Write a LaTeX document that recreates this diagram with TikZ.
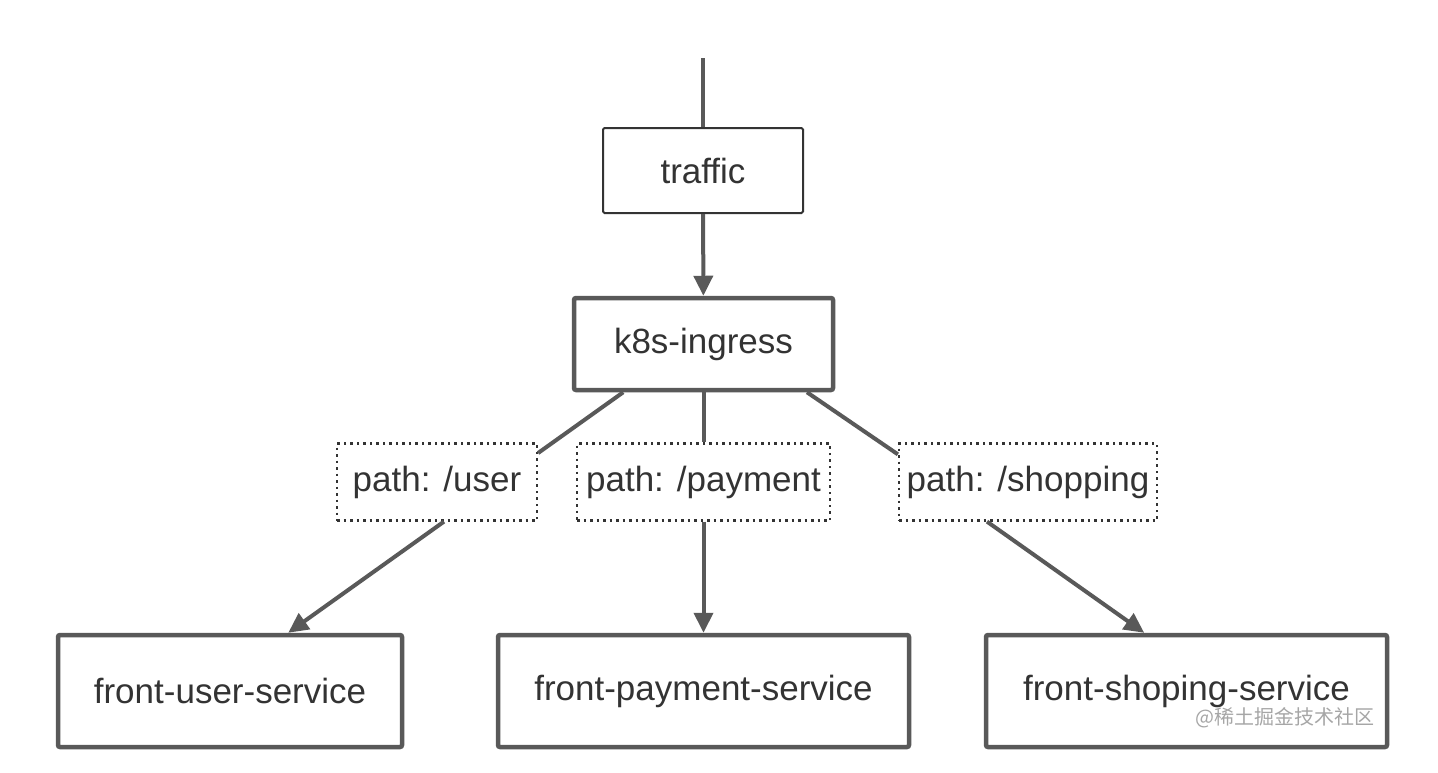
\documentclass[tikz,border=0pt]{standalone}
\usepackage{fontspec}
\setmainfont{Liberation Sans}
\newfontfamily\cjkfont{Noto Sans CJK SC}
\usepackage{tikz}
\usetikzlibrary{arrows.meta,positioning}
\definecolor{linegray}{HTML}{595959}
\definecolor{textgray}{HTML}{333333}
\definecolor{markgray}{HTML}{A6A6A6}

\begin{document}
\begin{tikzpicture}[x=1pt,y=-1pt,% one unit is one pixel of the reference
					every node/.style={
						align=center,			% so that "\\" works
						text=textgray,
						font=\fontsize{35}{42}\selectfont,
						inner sep=0pt
						},
					box/.style={rectangle,draw=textgray,line width=2pt,rounded corners=1.5pt},
					svcbox/.style={rectangle,draw=linegray,line width=4.5pt,rounded corners=2pt},
					routebox/.style={rectangle,draw=textgray,line width=2.2pt,dash pattern=on 2.5pt off 4pt},
					every edge/.style={draw=linegray,line width=4pt},
					tip/.style={-{Triangle[length=20pt,width=19pt]}}
					]
\useasboundingbox (0,0) rectangle (1438,772);
\coordinate (In) at (703,58);
\node[box,minimum width=200,minimum height=85](Traffic) at (703,170.5){traffic};
\node[svcbox,minimum width=259,minimum height=92](Ingress) at (703.5,344){k8s-ingress};
\node[routebox,minimum width=200,minimum height=77](UserPath) at (437,482){path: /user};
\node[routebox,minimum width=253,minimum height=77](PayPath) at (703.5,482){path: /payment};
\node[routebox,minimum width=258,minimum height=77](ShopPath) at (1028,482){path: /shopping};
\node[svcbox,minimum width=344,minimum height=112](UserSvc) at (230,691){front-user-service};
\node[svcbox,minimum width=411,minimum height=112](PaySvc) at (703.5,691){front-payment-service};
\node[svcbox,minimum width=401,minimum height=112](ShopSvc) at (1186.5,691){front-shoping-service};
\node[text=markgray,font=\cjkfont\fontsize{20}{24}\selectfont](Mark) at (1285,718){@稀土掘金技术社区};
\path
(In)edge []     (Traffic.north)
(Traffic)edge [tip]     (Ingress)
(Ingress.-149)edge []     (UserPath.16)
(Ingress)edge []     (PayPath)
(Ingress.-25)edge []     (ShopPath.168.6)
(UserPath.-80)edge [tip]     (UserSvc.45.5)
(PayPath)edge [tip]     (PaySvc)
(ShopPath.-136.8)edge [tip]     (ShopSvc.126.5)
;
\end{tikzpicture}
\end{document}
